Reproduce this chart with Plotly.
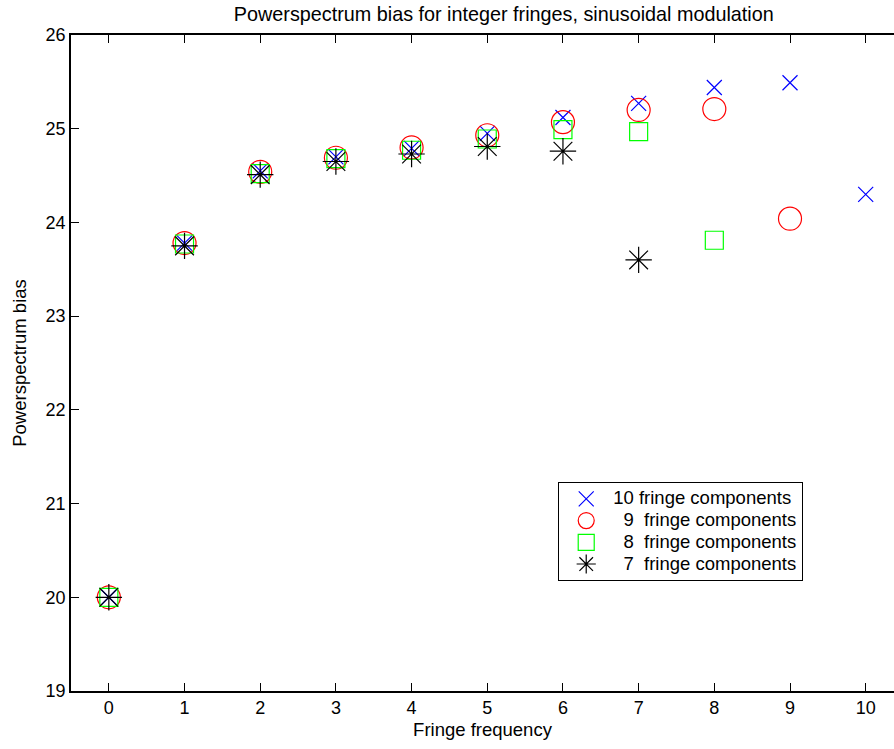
import plotly.graph_objects as go

freq10 = [0, 1, 2, 3, 4, 5, 6, 7, 8, 9, 10]
bias10 = [20.0, 23.78, 24.55, 24.70, 24.79, 24.95, 25.12, 25.27, 25.44, 25.49, 24.30]
freq9 = [0, 1, 2, 3, 4, 5, 6, 7, 8, 9]
bias9 = [20.0, 23.78, 24.54, 24.69, 24.80, 24.93, 25.07, 25.20, 25.21, 24.04]
freq8 = [0, 1, 2, 3, 4, 5, 6, 7, 8]
bias8 = [20.0, 23.77, 24.52, 24.68, 24.77, 24.89, 24.99, 24.97, 23.81]
freq7 = [0, 1, 2, 3, 4, 5, 6, 7]
bias7 = [20.0, 23.75, 24.51, 24.65, 24.73, 24.81, 24.76, 23.60]

labels = ["10 fringe components",
          "\u00a0\u00a09\u00a0\u00a0fringe components",
          "\u00a0\u00a08\u00a0\u00a0fringe components",
          "\u00a0\u00a07\u00a0\u00a0fringe components"]
x_ticks = list(range(0, 11))
y_ticks = list(range(19, 27))

FONT = "Liberation Sans"
FS = 18
LEG_FS = 18.5


def leg(t):
    return '<span style="font-size:%spx">%s</span>' % (LEG_FS, t)


fig = go.Figure()
fig.add_trace(go.Scatter(x=freq10, y=bias10, mode="markers", name=leg(labels[0]),
                         marker=dict(symbol="x-thin-open", size=15, color="#0000ff",
                                     line=dict(color="#0000ff", width=1.2))))
fig.add_trace(go.Scatter(x=freq9, y=bias9, mode="markers", name=leg(labels[1]),
                         marker=dict(symbol="circle-open", size=23, color="#ff0000",
                                     line=dict(color="#ff0000", width=1.2))))
fig.add_trace(go.Scatter(x=freq8, y=bias8, mode="markers", name=leg(labels[2]),
                         marker=dict(symbol="square-open", size=18, color="#00ff00",
                                     line=dict(color="#00ff00", width=1.2))))
fig.add_trace(go.Scatter(x=freq7, y=bias7, mode="markers", name=leg(labels[3]),
                         marker=dict(symbol="asterisk-open", size=22, color="#000000",
                                     line=dict(color="#000000", width=1.2))))

fig.update_layout(
    width=894, height=749,
    margin=dict(l=71, r=0, t=35, b=58, pad=0),
    paper_bgcolor="white", plot_bgcolor="white",
    font=dict(family=FONT, size=FS, color="black"),
    title=dict(text="Powerspectrum bias for integer fringes, sinusoidal modulation",
               x=0.5635, xanchor="center", y=0.981, yanchor="middle",
               font=dict(family=FONT, size=19.8, color="black")),
    showlegend=True,
    legend=dict(x=0.592, y=0.3186, xanchor="left", yanchor="top",
                bgcolor="white", bordercolor="black", borderwidth=1,
                font=dict(family=FONT, size=14.4, color="black"),
                tracegroupgap=0, itemwidth=44),
    xaxis=dict(range=[-0.5, 10.374], tickvals=x_ticks, ticks="inside", ticklen=8,
               tickcolor="black", showline=True, linecolor="black", linewidth=1.5,
               mirror="ticks", showgrid=False, zeroline=False,
               tickfont=dict(family=FONT, size=FS, color="black"),
               title=dict(text="Fringe frequency", standoff=6,
                          font=dict(family=FONT, size=18.5, color="black"))),
    yaxis=dict(range=[19, 26], tickvals=y_ticks, ticks="inside", ticklen=8,
               tickcolor="black", showline=True, linecolor="black", linewidth=1.5,
               mirror=False, showgrid=False, zeroline=False,
               tickfont=dict(family=FONT, size=FS, color="black"),
               title=dict(text="Powerspectrum bias", standoff=14,
                          font=dict(family=FONT, size=18.5, color="black"))),
)

fig.write_html("out.html")
